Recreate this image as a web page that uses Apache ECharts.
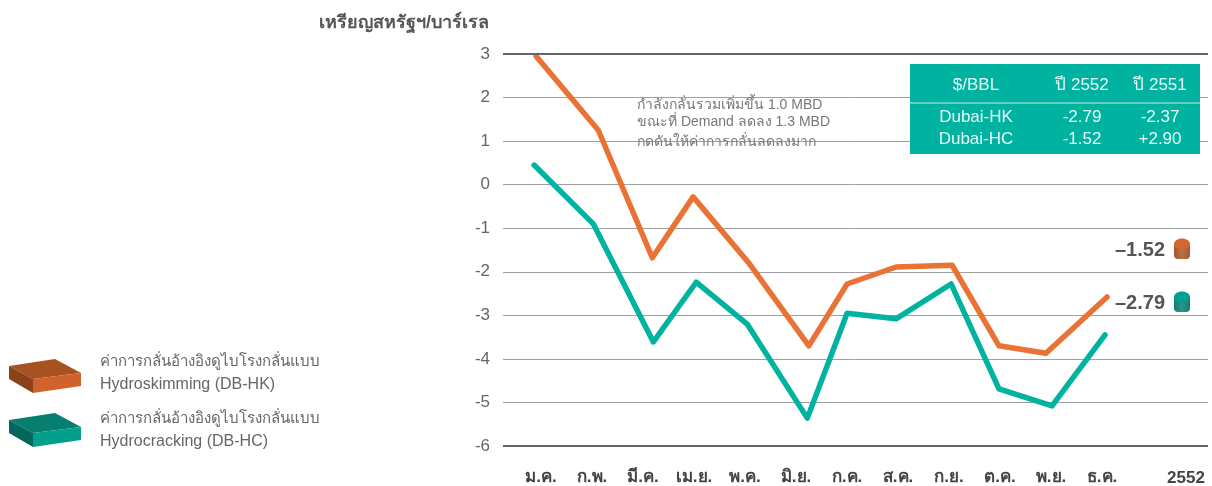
<!DOCTYPE html>
<html>
<head>
<meta charset="utf-8">
<style>
html, body { margin: 0; padding: 0; background: #fff; }
#main { width: 1212px; height: 486px; }
</style>
<script src="https://cdn.jsdelivr.net/npm/echarts@6/dist/echarts.min.js"></script>
</head>
<body>
<div id="main"></div>
<script>
// ข้อมูลอ่านจากภาพ
var months = ['ม.ค.', 'ก.พ.', 'มี.ค.', 'เม.ย.', 'พ.ค.', 'มิ.ย.', 'ก.ค.', 'ส.ค.', 'ก.ย.', 'ต.ค.', 'พ.ย.', 'ธ.ค.'];
// the points sit a little off their month labels in the picture, so x is a fractional month
var hkMonthPos = [-0.10, 1.12, 2.18, 2.98, 4.06, 5.25, 6.0, 6.96, 8.06, 8.98, 9.90, 11.10];
var hkValues = [2.95, 1.25, -1.68, -0.28, -1.78, -3.70, -2.28, -1.89, -1.85, -3.70, -3.87, -2.58];
var hcMonthPos = [-0.14, 1.02, 2.20, 3.04, 4.04, 5.22, 6.0, 6.96, 8.04, 8.98, 10.02, 11.06];
var hcValues = [0.45, -0.90, -3.61, -2.24, -3.20, -5.36, -2.95, -3.08, -2.28, -4.69, -5.08, -3.45];
var tableHead = ['$/BBL', 'ปี 2552', 'ปี 2551'];
var tableRows = [
    ['Dubai-HK', '-2.79', '-2.37'],
    ['Dubai-HC', '-1.52', '+2.90']
];
var noteLines = ['กำลังกลั่นรวมเพิ่มขึ้น 1.0 MBD', 'ขณะที่ Demand ลดลง 1.3 MBD', 'กดดันให้ค่าการกลั่นลดลงมาก'];

var FONT = '"Liberation Sans", "Noto Sans", sans-serif';
var ORANGE = '#e97235';
var TEAL = '#00b3a0';

function pairs(xs, ys) {
    var out = [];
    for (var i = 0; i < xs.length; i++) {
        out.push([xs[i], ys[i]]);
    }
    return out;
}

function text(x, y, str, size, color, align, weight) {
    return {
        type: 'text',
        x: x,
        y: y,
        z: 20,
        style: {
            text: str,
            fill: color,
            font: (weight || 'normal') + ' ' + size + 'px ' + FONT,
            align: align || 'left',
            verticalAlign: 'middle'
        }
    };
}

function poly(points, color) {
    return { type: 'polygon', z: 20, shape: { points: points }, style: { fill: color } };
}

// กล่องสี่เหลี่ยมใน legend
function block(dy, top, front, side) {
    function p(x, y) { return [x, y + dy]; }
    return [
        poly([p(9, 366), p(55, 359), p(81, 373), p(33, 379)], top),
        poly([p(33, 379), p(81, 373), p(81, 386), p(33, 393)], front),
        poly([p(9, 366), p(33, 379), p(33, 393), p(9, 379)], side)
    ];
}

function cylinder(cy, top, edge, mid) {
    var body = new echarts.graphic.LinearGradient(0, 0, 1, 0, [
        { offset: 0, color: edge },
        { offset: 0.5, color: mid },
        { offset: 1, color: edge }
    ]);
    return [
        { type: 'rect', z: 20, shape: { x: 1174, y: cy - 5, width: 16, height: 15, r: [0, 0, 4, 4] }, style: { fill: body } },
        { type: 'ellipse', z: 21, shape: { cx: 1182, cy: cy - 5, rx: 8, ry: 5.5 }, style: { fill: top } }
    ];
}

var graphics = [];
graphics.push(text(319, 23, 'เหรียญสหรัฐฯ/บาร์เรล', 18, '#555', 'left', 'bold'));
graphics.push(text(1186, 478, '2552', 17, '#444', 'center', 'bold'));

// ตาราง
graphics.push({ type: 'rect', z: 15, shape: { x: 910, y: 64, width: 290, height: 90 }, style: { fill: TEAL } });
graphics.push({ type: 'line', z: 16, shape: { x1: 910, y1: 103, x2: 1200, y2: 103 }, style: { stroke: '#c8efe9', lineWidth: 1 } });
var colX = [976, 1082, 1160];
for (var c = 0; c < 3; c++) {
    graphics.push(text(colX[c], 85, tableHead[c], 17, '#e6f8f5', 'center'));
    graphics.push(text(colX[c], 117, tableRows[0][c], 17, '#e6f8f5', 'center'));
    graphics.push(text(colX[c], 139, tableRows[1][c], 17, '#e6f8f5', 'center'));
}

// ข้อความอธิบาย
graphics.push(text(637, 105, noteLines[0], 14, '#777', 'left'));
graphics.push(text(637, 122, noteLines[1], 14, '#777', 'left'));
graphics.push(text(637, 142, noteLines[2], 14, '#777', 'left'));

// ค่าปลายเส้น
graphics.push(text(1165, 250, '–1.52', 20, '#555', 'right', 'bold'));
graphics.push(text(1165, 303, '–2.79', 20, '#555', 'right', 'bold'));
graphics = graphics.concat(cylinder(249, '#d4672f', '#a9562a', '#b8704a'));
graphics = graphics.concat(cylinder(302, '#00a08e', '#0d7f72', '#2f9488'));

// legend
graphics = graphics.concat(block(0, '#a85222', '#d0632b', '#8a4218'));
graphics = graphics.concat(block(54, '#067f70', '#00a08c', '#05665b'));
graphics.push(text(100, 362, 'ค่าการกลั่นอ้างอิงดูไบโรงกลั่นแบบ', 15, '#666'));
graphics.push(text(100, 385, 'Hydroskimming (DB-HK)', 16, '#666'));
graphics.push(text(100, 419, 'ค่าการกลั่นอ้างอิงดูไบโรงกลั่นแบบ', 15, '#666'));
graphics.push(text(100, 442, 'Hydrocracking (DB-HC)', 16, '#666'));

var myChart = echarts.init(document.getElementById('main'), null, { renderer: 'canvas' });

var option = {
    animation: false,
    backgroundColor: '#fff',
    textStyle: { fontFamily: FONT },
    graphic: graphics,
    grid: [
        { left: 503, right: 4, top: 54, bottom: 40 },
        // แถวชื่อเดือน
        { left: 515.5, width: 612, top: 54, bottom: 40 }
    ],
    xAxis: [
        { gridIndex: 0, type: 'value', min: -0.75, max: 13.08, show: false },
        {
            gridIndex: 1,
            type: 'category',
            data: months,
            axisLine: { show: false },
            axisTick: { show: false },
            axisLabel: { color: '#444', fontSize: 17, fontWeight: 'bold', margin: 27, interval: 0 }
        }
    ],
    yAxis: [
        {
            gridIndex: 0,
            type: 'value',
            min: -6,
            max: 3,
            interval: 1,
            axisLine: { show: false },
            axisTick: { show: false },
            axisLabel: { color: '#666', fontSize: 17, margin: 13, padding: [4, 0, 0, 0] },
            splitLine: { lineStyle: { color: '#a0a0a0', width: 1 } }
        },
        { gridIndex: 1, type: 'value', min: -6, max: 3, show: false }
    ],
    series: [
        {
            name: 'Hydrocracking (DB-HC)',
            type: 'line',
            xAxisIndex: 0,
            yAxisIndex: 0,
            symbol: 'none',
            silent: true,
            lineStyle: { color: TEAL, width: 5.5, cap: 'round', join: 'round' },
            data: pairs(hcMonthPos, hcValues),
            markLine: {
                silent: true,
                symbol: 'none',
                label: { show: false },
                lineStyle: { color: '#666', width: 2, type: 'solid' },
                data: [{ yAxis: 3 }, { yAxis: -6 }]
            }
        },
        {
            name: 'Hydroskimming (DB-HK)',
            type: 'line',
            xAxisIndex: 0,
            yAxisIndex: 0,
            symbol: 'none',
            silent: true,
            lineStyle: { color: ORANGE, width: 5.5, cap: 'round', join: 'round' },
            data: pairs(hkMonthPos, hkValues)
        }
    ]
};

option && myChart.setOption(option);
</script>
</body>
</html>
